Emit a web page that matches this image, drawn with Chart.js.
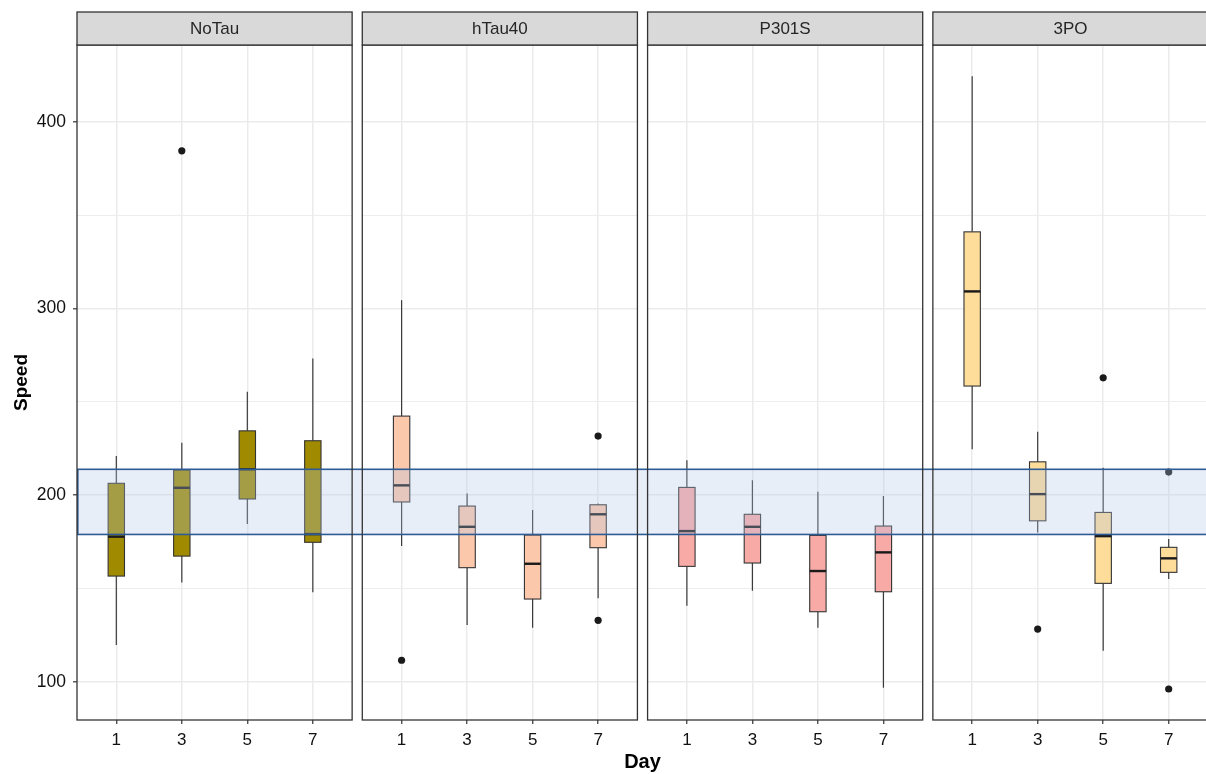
<!DOCTYPE html>
<html>
<head>
<meta charset="utf-8">
<script src="https://cdn.jsdelivr.net/npm/chart.js@4.4.1/dist/chart.umd.min.js"></script>
<style>
  html, body { margin: 0; padding: 0; background: #fff; }
  #wrap { width: 1206px; height: 774px; overflow: hidden; position: relative; }
  canvas { display: block; }
</style>
</head>
<body>
<div id="wrap"><canvas id="chart" width="1212" height="774"></canvas></div>
<script>
// facets and days
const GROUPS = ['NoTau', 'hTau40', 'P301S', '3PO'];
const DAYS = [1, 3, 5, 7];
const FILLS = ['#a08a00', '#fcc8ac', '#f8aaa6', '#fedc9a'];

// box stats, one row per group, one column per day
const WHISKER_LOW = [
  [119.7, 153.2, 184.5, 147.9],
  [172.7, 130.4, 128.9, 144.7],
  [140.7, 148.7, 128.9, 96.8],
  [224.5, 180.0, 116.6, 155.0]
];
const Q1 = [
  [156.6, 167.3, 197.9, 174.7],
  [196.3, 161.1, 144.3, 171.8],
  [161.8, 163.6, 137.5, 148.2],
  [258.4, 186.2, 152.7, 158.6]
];
const MEDIAN = [
  [177.7, 203.9, 213.8, 179.1],
  [205.2, 183.0, 163.2, 189.7],
  [180.7, 183.0, 159.3, 169.3],
  [309.1, 200.5, 178.0, 166.1]
];
const Q3 = [
  [206.3, 213.4, 234.4, 229.1],
  [242.3, 194.1, 178.6, 194.8],
  [204.1, 189.7, 178.4, 183.4],
  [341.0, 217.8, 190.7, 172.0]
];
const WHISKER_HIGH = [
  [220.9, 228.0, 255.3, 273.2],
  [304.4, 200.9, 192.0, 195.5],
  [218.7, 208.0, 201.8, 199.5],
  [424.4, 233.9, 214.6, 176.4]
];

// outliers
const OUTLIER_GROUP = [0, 1, 1, 1, 3, 3, 3, 3];
const OUTLIER_DAY = [3, 1, 7, 7, 3, 5, 7, 7];
const OUTLIER_SPEED = [384.4, 111.5, 231.6, 132.9, 128.2, 262.8, 212.3, 96.1];

const Y_TICKS = [100, 150, 200, 250, 300, 350, 400];
const BAND = [178.9, 213.8];

// one linear x axis, each panel takes PANEL_SPAN units
const PANEL_SPAN = 8.4;
const PANEL_GAP = 0.31;
const STEP = PANEL_SPAN + PANEL_GAP;
const X_MIN = -0.2;
const X_MAX = X_MIN + GROUPS.length * STEP - PANEL_GAP;
const BOX_W = 0.5;

function xOf(g, day) {
  return g * STEP + day;
}

function line(ctx, x1, y1, x2, y2) {
  ctx.beginPath();
  ctx.moveTo(x1, y1);
  ctx.lineTo(x2, y2);
  ctx.stroke();
}

const facetPlugin = {
  id: 'facets',
  beforeDatasetsDraw(chart) {
    const { ctx, chartArea: a, scales: { x, y } } = chart;
    ctx.save();

    // blank out the gaps between panels
    ctx.fillStyle = '#fff';
    for (let g = 1; g < GROUPS.length; g++) {
      const l = x.getPixelForValue(g * STEP + X_MIN - PANEL_GAP);
      const r = x.getPixelForValue(g * STEP + X_MIN);
      ctx.fillRect(l, a.top - 1, r - l, a.bottom - a.top + 2);
    }

    // boxplots
    GROUPS.forEach((name, g) => {
      DAYS.forEach((d, i) => {
        const cx = x.getPixelForValue(xOf(g, d));
        const xl = x.getPixelForValue(xOf(g, d) - BOX_W / 2);
        const xr = x.getPixelForValue(xOf(g, d) + BOX_W / 2);
        const yLo = y.getPixelForValue(WHISKER_LOW[g][i]);
        const yQ1 = y.getPixelForValue(Q1[g][i]);
        const yMed = y.getPixelForValue(MEDIAN[g][i]);
        const yQ3 = y.getPixelForValue(Q3[g][i]);
        const yHi = y.getPixelForValue(WHISKER_HIGH[g][i]);

        ctx.strokeStyle = '#3a3a3a';
        ctx.lineWidth = 1.2;
        line(ctx, cx, yHi, cx, yQ3);
        line(ctx, cx, yQ1, cx, yLo);

        ctx.fillStyle = FILLS[g];
        ctx.fillRect(xl, yQ3, xr - xl, yQ1 - yQ3);
        ctx.strokeStyle = '#333';
        ctx.lineWidth = 1.1;
        ctx.strokeRect(xl, yQ3, xr - xl, yQ1 - yQ3);

        ctx.strokeStyle = '#1a1a1a';
        ctx.lineWidth = 2.4;
        line(ctx, xl, yMed, xr, yMed);
      });
    });
    ctx.restore();
  },
  afterDatasetsDraw(chart) {
    const { ctx, chartArea: a, scales: { x, y } } = chart;
    ctx.save();

    // reference band
    const bTop = y.getPixelForValue(BAND[1]);
    const bBot = y.getPixelForValue(BAND[0]);
    ctx.fillStyle = 'rgba(178,198,232,0.3)';
    ctx.fillRect(a.left, bTop, a.right - a.left + 20, bBot - bTop);
    ctx.strokeStyle = '#2d5b95';
    ctx.lineWidth = 1.6;
    ctx.strokeRect(a.left + 0.8, bTop, a.right - a.left + 20, bBot - bTop);

    // panel borders and strips
    GROUPS.forEach((name, g) => {
      const l = x.getPixelForValue(g * STEP + X_MIN);
      const r = x.getPixelForValue(g * STEP + X_MIN + PANEL_SPAN);
      ctx.strokeStyle = '#333';
      ctx.lineWidth = 1.3;
      ctx.strokeRect(l, a.top, r - l, a.bottom - a.top);

      ctx.fillStyle = '#d9d9d9';
      ctx.fillRect(l, 12, r - l, a.top - 12);
      ctx.strokeRect(l, 12, r - l, a.top - 12);

      ctx.fillStyle = '#262626';
      ctx.font = '17px "Liberation Sans", Arial, sans-serif';
      ctx.textAlign = 'center';
      ctx.textBaseline = 'middle';
      ctx.fillText(name, (l + r) / 2, (12 + a.top) / 2 + 1);
    });
    ctx.restore();
  }
};

const outliers = OUTLIER_SPEED.map((v, k) => ({
  x: xOf(OUTLIER_GROUP[k], OUTLIER_DAY[k]),
  y: v
}));

const FONT = '"Liberation Sans", Arial, sans-serif';

new Chart(document.getElementById('chart'), {
  type: 'scatter',
  data: {
    datasets: [{
      data: outliers,
      pointRadius: 3.6,
      backgroundColor: '#1a1a1a',
      borderWidth: 0
    }]
  },
  options: {
    responsive: false,
    animation: false,
    devicePixelRatio: 1,
    layout: { padding: { top: 45, right: 4, bottom: 0, left: 0 } },
    plugins: {
      legend: { display: false },
      tooltip: { enabled: false }
    },
    scales: {
      x: {
        type: 'linear',
        min: X_MIN,
        max: X_MAX,
        afterBuildTicks: scale => {
          scale.ticks = GROUPS.flatMap((_, g) => DAYS.map(d => ({ value: xOf(g, d) })));
        },
        afterFit: scale => { scale.height = 54; },
        border: { display: false },
        grid: {
          color: '#ebebeb',
          lineWidth: 1.5,
          tickColor: '#333',
          tickLength: 4,
          tickWidth: 1.2
        },
        ticks: {
          autoSkip: false,
          maxRotation: 0,
          padding: 6,
          color: '#111',
          font: { family: FONT, size: 17 },
          callback: (v, idx) => DAYS[idx % DAYS.length]
        },
        title: {
          display: true,
          text: 'Day',
          color: '#000',
          font: { family: FONT, size: 20, weight: 'bold' },
          padding: { top: 0, bottom: 0 }
        }
      },
      y: {
        min: 79.5,
        max: 441.1,
        afterBuildTicks: scale => {
          scale.ticks = Y_TICKS.map(v => ({ value: v }));
        },
        afterFit: scale => { scale.width = 77; },
        border: { display: false },
        grid: {
          color: '#ebebeb',
          lineWidth: c => (c.tick && c.tick.value % 100 === 0 ? 1.6 : 0.9),
          tickColor: c => (c.tick && c.tick.value % 100 === 0 ? '#333' : 'rgba(0,0,0,0)'),
          tickLength: 4,
          tickWidth: 1.2
        },
        ticks: {
          padding: 7,
          color: '#111',
          font: { family: FONT, size: 17.5 },
          callback: v => (v % 100 === 0 ? v : '')
        },
        title: {
          display: true,
          text: 'Speed',
          color: '#000',
          font: { family: FONT, size: 19, weight: 'bold' },
          padding: { top: 10, bottom: 0 }
        }
      }
    }
  },
  plugins: [facetPlugin]
});
</script>
</body>
</html>
